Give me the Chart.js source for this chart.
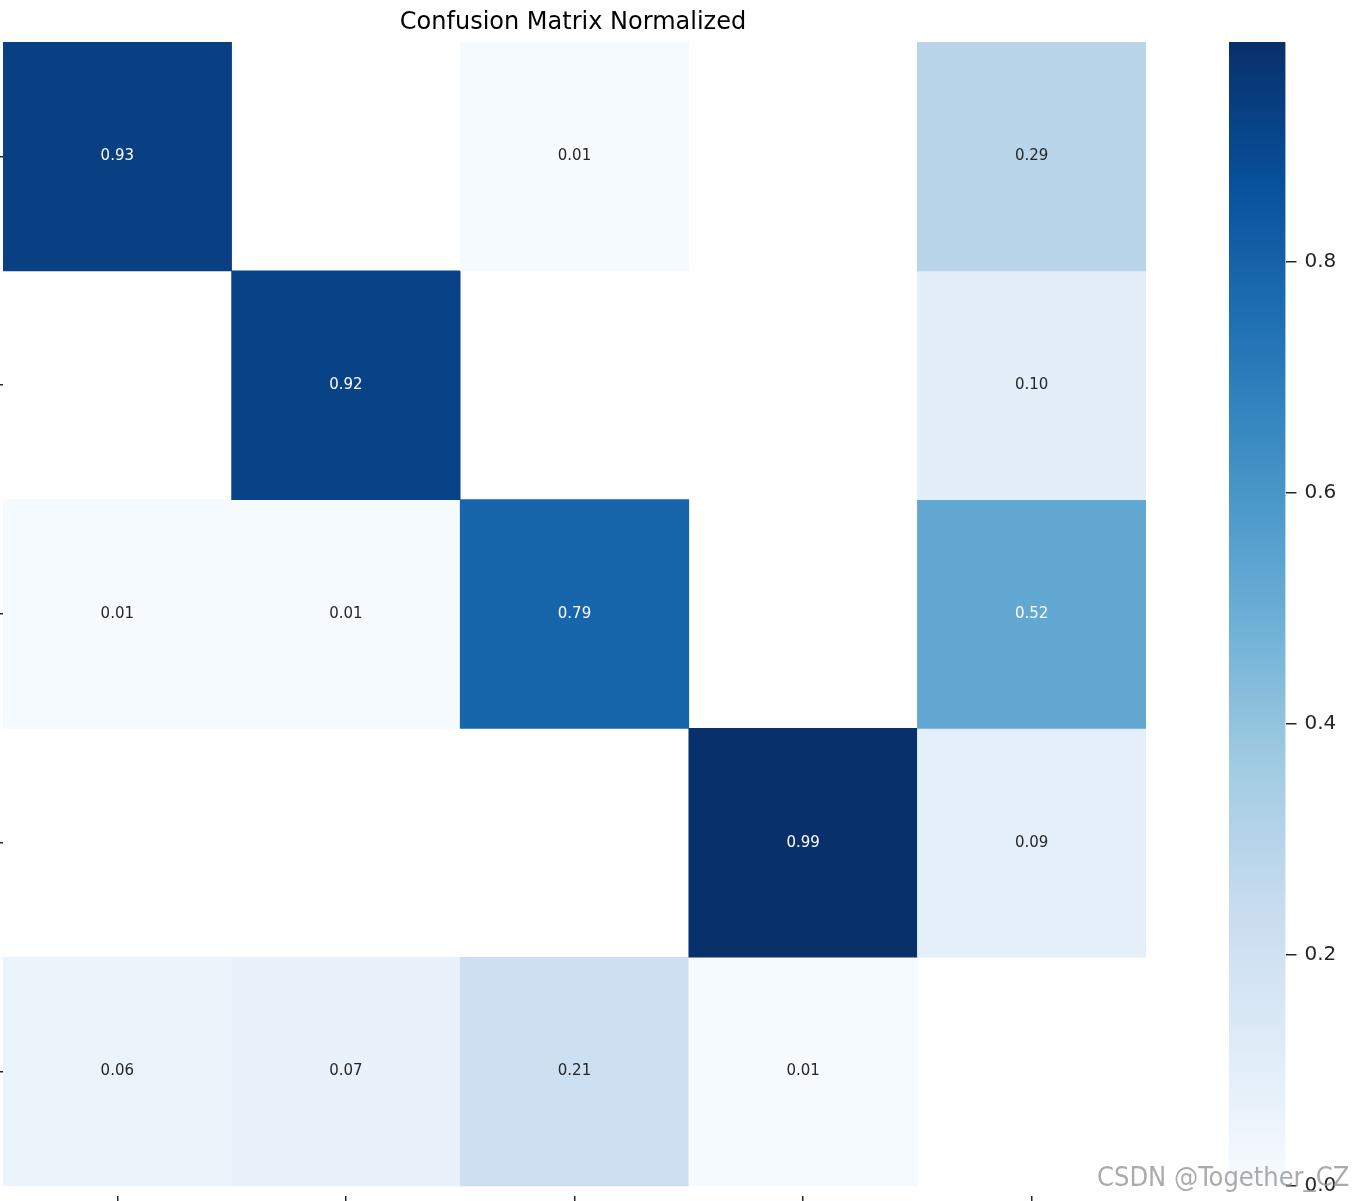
<!DOCTYPE html>
<html>
<head>
<meta charset="utf-8">
<script src="https://cdn.jsdelivr.net/npm/chart.js"></script>
<style>
  body { margin: 0; background: #fff; overflow: hidden; width: 1353px; height: 1201px; position: relative; }
  #cm { position: absolute; left: 0; top: 0; }
  #cb { position: absolute; left: 1229px; top: 0; }
  #mark { position: absolute; left: 1097px; top: 1161px; font: 27px 'Liberation Sans Narrow', 'DejaVu Sans Condensed', sans-serif;
          color: rgba(150, 150, 150, 0.8); white-space: nowrap; }
</style>
</head>
<body>
<canvas id="cm" width="1149" height="1206"></canvas>
<canvas id="cb" width="113" height="1206"></canvas>
<div id="mark">CSDN @Together_CZ</div>

<script>
// class names are cut off in the picture, only the tick marks show
const classes = ['0', '1', '2', '3', 'background'];

// normalized confusion matrix, rows top to bottom, null = blank cell
const row0 = [0.93, null, 0.01, null, 0.29];
const row1 = [null, 0.92, null, null, 0.10];
const row2 = [0.01, 0.01, 0.79, null, 0.52];
const row3 = [null, null, null, 0.99, 0.09];
const row4 = [0.06, 0.07, 0.21, 0.01, null];
const matrix = [row0, row1, row2, row3, row4];

const colorbarTicks = [0.0, 0.2, 0.4, 0.6, 0.8];

// matplotlib "Blues"
const blues = ['#f7fbff', '#deebf7', '#c6dbef', '#9ecae1', '#6baed6', '#4292c6', '#2171b5', '#08519c', '#08306b'];

const vmax = Math.max(...matrix.flat().filter(v => v != null));

function hexRgb(h) {
  return [parseInt(h.slice(1, 3), 16), parseInt(h.slice(3, 5), 16), parseInt(h.slice(5, 7), 16)];
}
function bluesRgb(t) {
  t = Math.min(1, Math.max(0, t));
  const p = t * (blues.length - 1);
  const i = Math.min(blues.length - 2, Math.floor(p));
  const f = p - i;
  const a = hexRgb(blues[i]), b = hexRgb(blues[i + 1]);
  return a.map((c, k) => Math.round(c + (b[k] - c) * f));
}
function cellColor(v) {
  const c = bluesRgb(v / vmax);
  return 'rgb(' + c.join(',') + ')';
}
// same rule seaborn uses to pick the annotation colour
function textColor(v) {
  const lin = bluesRgb(v / vmax).map(c => {
    c = c / 255;
    return c <= 0.03928 ? c / 12.92 : Math.pow((c + 0.055) / 1.055, 2.4);
  });
  const lum = 0.2126 * lin[0] + 0.7152 * lin[1] + 0.0722 * lin[2];
  return lum > 0.408 ? '#262626' : '#ffffff';
}

const cellText = {
  id: 'cellText',
  afterDatasetsDraw(chart) {
    const ctx = chart.ctx;
    ctx.save();
    ctx.font = '15px "DejaVu Sans"';
    ctx.textAlign = 'center';
    ctx.textBaseline = 'middle';
    matrix.forEach((row, r) => {
      const meta = chart.getDatasetMeta(r);
      row.forEach((v, c) => {
        if (v == null) return;
        const bar = meta.data[c];
        ctx.fillStyle = textColor(v);
        ctx.fillText(v.toFixed(2), bar.x, (bar.y + bar.base) / 2);
      });
    });
    ctx.restore();
  }
};

const tickGrid = (len) => ({
  display: true,
  drawOnChartArea: false,
  drawTicks: true,
  tickLength: len,
  offset: false,
  color: '#262626',
  lineWidth: 1.5
});

new Chart(document.getElementById('cm'), {
  type: 'bar',
  data: {
    labels: classes,
    datasets: matrix.map((row, r) => ({
      data: row.map(v => v == null ? null : [r, r + 1]),
      backgroundColor: row.map(v => v == null ? 'rgba(0,0,0,0)' : cellColor(v)),
      borderWidth: 0,
      barPercentage: 1,
      categoryPercentage: 1,
      grouped: false
    }))
  },
  options: {
    responsive: false,
    animation: false,
    layout: { padding: { left: 0, right: 3, top: 0, bottom: 0 } },
    plugins: {
      legend: { display: false },
      tooltip: { enabled: false },
      title: {
        display: true,
        text: 'Confusion Matrix Normalized',
        color: '#000',
        font: { family: 'DejaVu Sans', size: 24, weight: 'normal' },
        padding: { top: 8.2, bottom: 5 }
      }
    },
    scales: {
      x: {
        type: 'category',
        grid: tickGrid(10),
        border: { display: false },
        ticks: { display: false }
      },
      y: {
        type: 'linear',
        min: 0,
        max: classes.length + 10 / 229,
        reverse: true,
        afterBuildTicks: s => { s.ticks = classes.map((_, i) => ({ value: i + 0.5 })); },
        grid: tickGrid(3),
        border: { display: false },
        ticks: { display: false }
      }
    }
  },
  plugins: [cellText]
});

new Chart(document.getElementById('cb'), {
  type: 'bar',
  data: {
    labels: [''],
    datasets: [{
      data: [[0, vmax]],
      backgroundColor: (c) => {
        const a = c.chart.chartArea;
        if (!a) return null;
        const g = c.chart.ctx.createLinearGradient(0, a.bottom, 0, a.top);
        blues.forEach((col, i) => g.addColorStop(i / (blues.length - 1), col));
        return g;
      },
      borderWidth: 0,
      barPercentage: 1,
      categoryPercentage: 1
    }]
  },
  options: {
    responsive: false,
    animation: false,
    layout: { padding: { left: 0, right: 0, top: 42, bottom: 15 } },
    plugins: { legend: { display: false }, tooltip: { enabled: false } },
    scales: {
      x: { display: false },
      y: {
        position: 'right',
        min: 0,
        max: vmax,
        afterBuildTicks: s => { s.ticks = colorbarTicks.map(v => ({ value: v })); },
        ticks: {
          callback: v => v.toFixed(1),
          color: '#262626',
          font: { family: 'DejaVu Sans', size: 20 },
          padding: 8
        },
        grid: tickGrid(11),
        border: { display: false }
      }
    }
  }
});
</script>
</body>
</html>
